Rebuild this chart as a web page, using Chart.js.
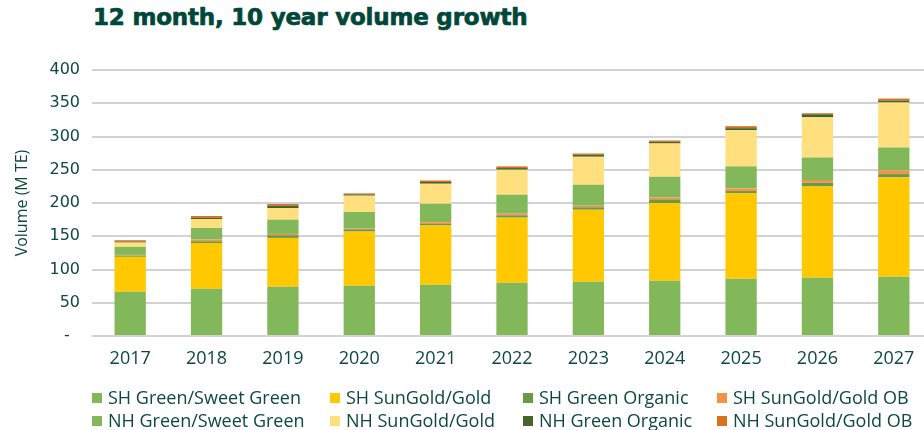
<!DOCTYPE html>
<html>
<head>
<meta charset="utf-8">
<script src="https://cdn.jsdelivr.net/npm/chart.js@4.4.1/dist/chart.umd.min.js"></script>
<style>
  html, body { margin: 0; padding: 0; background: #ffffff; overflow: hidden; width: 924px; height: 430px; }
  #title { position: absolute; left: 93px; top: 4px; font-family: "DejaVu Sans", sans-serif; font-weight: 900; font-size: 23px; color: #00473a; white-space: nowrap; -webkit-text-stroke: 0.7px #00473a; letter-spacing: -0.2px; }
  #wrap { position: absolute; left: 0; top: 0; width: 934px; height: 370px; }
  #legend { position: absolute; left: 0; top: 0; width: 924px; height: 430px; pointer-events: none; }
  .li { position: absolute; font-family: "Open Sans", sans-serif; font-size: 18px; color: #0d4a3c; white-space: nowrap; line-height: 20px; }
  .li span.box { position: absolute; left: 0; top: 5px; width: 10px; height: 10px; }
  .li span.txt { position: absolute; left: 16px; top: -1px; }
</style>
</head>
<body>
<div id="title">12 month, 10 year volume growth</div>
<div id="wrap"><canvas id="c" width="934" height="370"></canvas></div>
<div id="legend"></div>
<script>
// ---- data ----
const years = ['2017','2018','2019','2020','2021','2022','2023','2024','2025','2026','2027'];
const shGreen        = [66.5, 71, 74, 75.5, 77, 80, 81.5, 83, 86, 87.5, 89];
const shSunGold      = [52.5, 69, 73.5, 81.5, 89, 98, 108.5, 117, 128.5, 137.5, 149.5];
const shGreenOrganic = [2, 2.5, 4, 3.5, 2.5, 3.5, 3.5, 5.5, 3.5, 5.5, 5];
const shSunGoldOB    = [1, 2.5, 2, 1.5, 2.5, 3, 2.5, 3, 4, 4, 5.5];
const nhGreen        = [12, 17.5, 21.5, 24.5, 28, 28, 31.5, 31, 33, 34, 34.5];
const nhSunGold      = [6.5, 13.5, 17.5, 24.5, 30, 37.5, 42, 50, 54.5, 60.5, 67.5];
const nhGreenOrganic = [1.5, 2, 3.5, 2, 2.5, 2.5, 3, 2.5, 3, 4.5, 3];
const nhSunGoldOB    = [2, 2.5, 2.5, 1.5, 2.5, 2.5, 2, 2, 3, 1.5, 3];
const seriesLabels = ['SH Green/Sweet Green','SH SunGold/Gold','SH Green Organic','SH SunGold/Gold OB',
                      'NH Green/Sweet Green','NH SunGold/Gold','NH Green Organic','NH SunGold/Gold OB'];
const yTicks = [0, 50, 100, 150, 200, 250, 300, 350, 400];
const axisTitle = 'Volume (M TE)';

const seriesData = [shGreen, shSunGold, shGreenOrganic, shSunGoldOB, nhGreen, nhSunGold, nhGreenOrganic, nhSunGoldOB];
const colors = ['#82b85a','#ffc800','#6b9a47','#f4924a','#82b85a','#ffdf7e','#46632b','#d7711a'];
const textColor = '#0d4a3c';

const datasets = seriesData.map((d, i) => ({
  label: seriesLabels[i],
  data: d,
  backgroundColor: colors[i],
  borderWidth: 0,
  barPercentage: 0.41,
  categoryPercentage: 1.0
}));

const chart = new Chart(document.getElementById('c'), {
  type: 'bar',
  data: { labels: years, datasets: datasets },
  options: {
    responsive: false,
    animation: false,
    layout: { padding: { left: 9, top: 70, right: 2, bottom: 0 } },
    plugins: { legend: { display: false }, tooltip: { enabled: false }, title: { display: false } },
    scales: {
      x: {
        stacked: true,
        grid: { display: false },
        border: { display: false },
        ticks: { color: textColor, font: { family: 'Open Sans', size: 18 }, padding: 4, maxRotation: 0 },
        afterFit: s => { s.height = 34; }
      },
      y: {
        stacked: true,
        min: 0, max: 400,
        afterBuildTicks: s => { s.ticks = yTicks.map(v => ({ value: v })); },
        grid: { color: '#d2d2d2', lineWidth: 2, drawTicks: false },
        border: { display: false },
        ticks: {
          color: textColor, font: { family: 'DejaVu Sans', size: 16 }, padding: 12,
          callback: v => v === 0 ? '-  ' : String(v)
        },
        title: { display: true, text: axisTitle, color: textColor, font: { family: 'Open Sans', size: 16 }, padding: 4 },
        afterFit: s => { s.width = 83; }
      }
    }
  }
});

// ---- HTML legend from chart datasets: row 1 = SH, row 2 = NH ----
const colX = [92, 330, 523, 717];
const rowY = [388, 411];
const legend = document.getElementById('legend');
chart.data.datasets.forEach((ds, i) => {
  const row = Math.floor(i / 4), col = i % 4;
  const el = document.createElement('div');
  el.className = 'li';
  el.style.left = colX[col] + 'px';
  el.style.top = rowY[row] + 'px';
  const b = document.createElement('span'); b.className = 'box'; b.style.background = ds.backgroundColor;
  const t = document.createElement('span'); t.className = 'txt'; t.textContent = ds.label;
  el.appendChild(b); el.appendChild(t);
  legend.appendChild(el);
});
</script>
</body>
</html>
